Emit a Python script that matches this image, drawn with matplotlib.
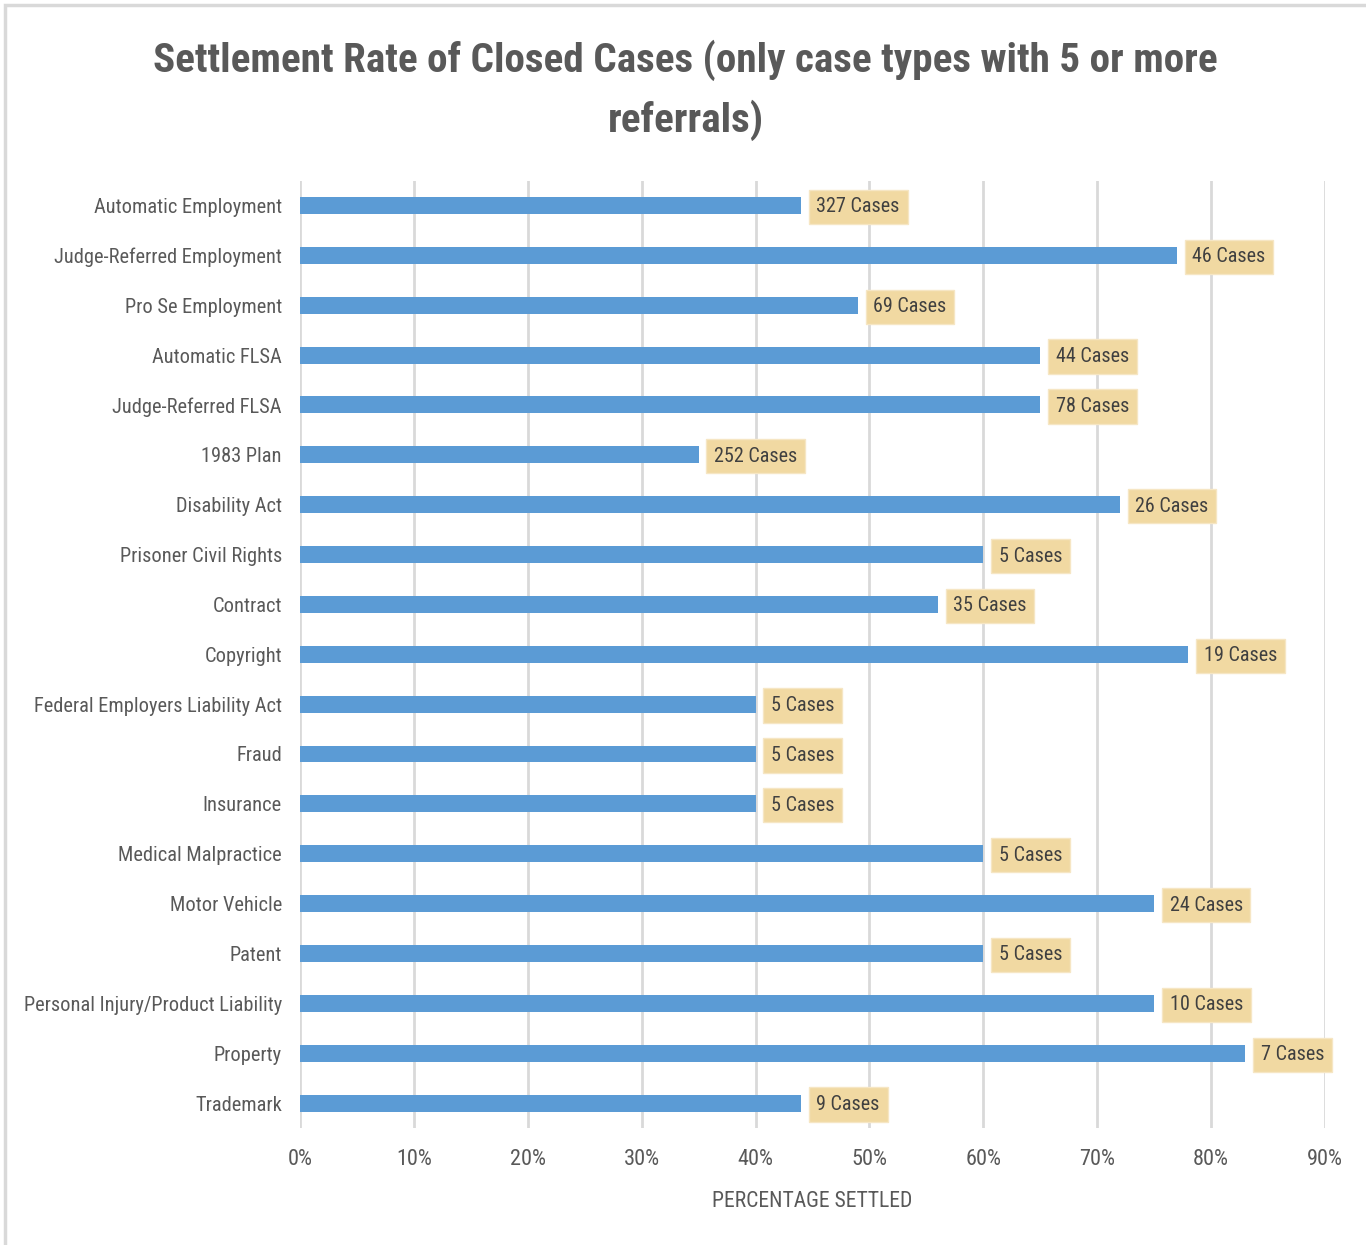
import matplotlib
matplotlib.use("Agg")
from matplotlib import pyplot as plt
from matplotlib import font_manager
from matplotlib.patches import Rectangle
from matplotlib.ticker import PercentFormatter

categories = ["Automatic Employment", "Judge-Referred Employment", "Pro Se Employment",
              "Automatic FLSA", "Judge-Referred FLSA", "1983 Plan", "Disability Act",
              "Prisoner Civil Rights", "Contract", "Copyright",
              "Federal Employers Liability Act", "Fraud", "Insurance",
              "Medical Malpractice", "Motor Vehicle", "Patent",
              "Personal Injury/Product Liability", "Property", "Trademark"]
settled_pct = [44, 77, 49, 65, 65, 35, 72, 60, 56, 78, 40, 40, 40, 60, 75, 60, 75, 83, 44]
case_counts = [327, 46, 69, 44, 78, 252, 26, 5, 35, 19, 5, 5, 5, 5, 24, 5, 10, 7, 9]
xticks = [0, 10, 20, 30, 40, 50, 60, 70, 80, 90]

# narrow font if one is around, otherwise Lato
installed = {f.name for f in font_manager.fontManager.ttflist}
family = "Lato"
for cand in ["Liberation Sans Narrow", "Roboto Condensed", "Open Sans Condensed",
             "Noto Sans Condensed", "DejaVu Sans Condensed"]:
    if cand in installed:
        family = cand
        break
plt.rcParams["font.family"] = [family, "DejaVu Sans"]

fig = plt.figure(figsize=(13.66, 12.45), dpi=100)
fig.patches.append(Rectangle((0.004, -0.01), 1.02, 1.006, transform=fig.transFigure,
                             fill=False, edgecolor="#d9d9d9", linewidth=2.5))
ax = fig.add_axes([0.2196, 0.094, 0.7504, 0.761])

y = range(len(categories))
ax.barh(y, settled_pct, height=0.34, color="#5b9bd5", zorder=3)
for i, (v, n) in enumerate(zip(settled_pct, case_counts)):
    ax.text(v + 1.35, i + 0.03, f"{n} Cases", va="center", ha="left", fontsize=14.5,
            color="#404040", zorder=4,
            bbox=dict(boxstyle="square,pad=0.38", facecolor="#f1d9a2",
                      edgecolor="#f6e6c4", linewidth=1))

ax.set_ylim(len(categories) - 0.5, -0.5)
ax.set_xlim(0, 90)
ax.set_xticks(xticks)
ax.xaxis.set_major_formatter(PercentFormatter(decimals=0))
ax.set_yticks(list(y))
ax.set_yticklabels(categories)
ax.grid(axis="x", color="#d9d9d9", linewidth=2, zorder=0)
for s in ax.spines.values():
    s.set_visible(False)
ax.tick_params(length=0, colors="#595959")
ax.tick_params(axis="x", pad=15, labelsize=16)
ax.tick_params(axis="y", pad=13, labelsize=14.7)
ax.set_xlabel("PERCENTAGE SETTLED", fontsize=15.6, color="#595959", labelpad=15)

fig.suptitle("Settlement Rate of Closed Cases (only case types with 5 or more\nreferrals)",
             x=0.502, y=0.968, fontsize=29.6, fontweight="bold", color="#595959",
             linespacing=1.57)

plt.savefig("out.png", dpi=100)
